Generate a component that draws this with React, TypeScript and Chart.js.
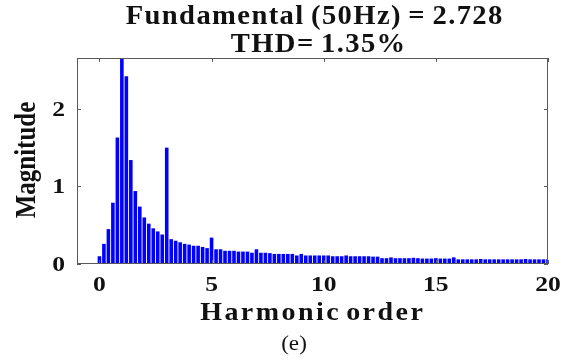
import React, { useEffect, useRef } from "react";
import { Chart, registerables } from "chart.js";

Chart.register(...registerables);

// FFT spectrum, one bar every 0.2 harmonic orders (10 Hz bins of a 50 Hz fundamental)
const ORDER_STEP = 0.2;
const magnitudes: number[] = [
  0.10, 0.26, 0.45, 0.79, 1.63, 2.728, 2.42, 1.34, 0.94, 0.74,
  0.60, 0.52, 0.46, 0.42, 0.38, 1.50, 0.32, 0.30, 0.28, 0.26,
  0.25, 0.235, 0.235, 0.22, 0.205, 0.34, 0.19, 0.19, 0.17, 0.17,
  0.17, 0.16, 0.16, 0.16, 0.145, 0.19, 0.145, 0.145, 0.14, 0.13,
  0.13, 0.13, 0.13, 0.13, 0.11, 0.13, 0.11, 0.11, 0.11, 0.11,
  0.11, 0.11, 0.10, 0.10, 0.10, 0.11, 0.10, 0.10, 0.10, 0.10,
  0.10, 0.095, 0.095, 0.075, 0.075, 0.085, 0.075, 0.075, 0.075, 0.075,
  0.08, 0.075, 0.07, 0.07, 0.07, 0.075, 0.07, 0.07, 0.07, 0.085,
  0.06, 0.06, 0.06, 0.06, 0.06, 0.065, 0.06, 0.06, 0.06, 0.06,
  0.06, 0.06, 0.06, 0.06, 0.06, 0.065, 0.06, 0.06, 0.06, 0.06,
  0.06,
];

const xTicks: number[] = [0, 5, 10, 15, 20];
const yTicks: number[] = [0, 1, 2];
const titleLines: string[] = ["Fundamental (50Hz) = 2.728", "THD= 1.35%"];
const xAxisTitle = "Harmonic order";
const yAxisTitle = "Magnitude";
const caption = "(e)";

const SERIF = '"Liberation Serif", Tinos, "Times New Roman", Times, serif';
const INK = "#111111";

// draws text widened around an anchor: a horizontal stretch plus extra tracking
function wideText(
  ctx: CanvasRenderingContext2D,
  text: string,
  x: number,
  y: number,
  font: string,
  sx: number,
  tracking: number,
  align: CanvasTextAlign,
  wordGap = 0
) {
  ctx.save();
  ctx.font = font;
  ctx.fillStyle = INK;
  ctx.textAlign = align;
  ctx.textBaseline = "alphabetic";
  (ctx as any).letterSpacing = `${tracking}px`;
  (ctx as any).wordSpacing = `${wordGap}px`;
  const shift = align === "center" ? (tracking * sx) / 2 : 0;
  ctx.translate(x + shift, y);
  ctx.scale(sx, 1);
  ctx.fillText(text, 0, 0);
  ctx.restore();
}

const framePlugin = {
  id: "frameAndLabels",
  afterDatasetsDraw(chart: any) {
    const { ctx, chartArea } = chart;
    const xs = chart.scales.x;
    const ys = chart.scales.y;
    const { left, right, top, bottom } = chartArea;
    ctx.save();
    ctx.strokeStyle = "#5a5a5a";
    ctx.lineWidth = 1;
    ctx.strokeRect(left + 0.5, top + 0.5, right - left - 1, bottom - top - 1);
    ctx.beginPath();
    const tl = 4;
    xTicks.forEach((v) => {
      const px = Math.round(xs.getPixelForValue(v)) + 0.5;
      ctx.moveTo(px, bottom);
      ctx.lineTo(px, bottom - tl);
      ctx.moveTo(px, top);
      ctx.lineTo(px, top + tl);
    });
    yTicks.forEach((v) => {
      const py = Math.round(ys.getPixelForValue(v)) + 0.5;
      ctx.moveTo(left, py);
      ctx.lineTo(left + tl, py);
      ctx.moveTo(right, py);
      ctx.lineTo(right - tl, py);
    });
    ctx.stroke();
    ctx.restore();
  },
  afterDraw(chart: any) {
    const { ctx, chartArea } = chart;
    const xs = chart.scales.x;
    const ys = chart.scales.y;
    const tickFont = `bold 21px ${SERIF}`;
    xTicks.forEach((v) => {
      wideText(ctx, String(v), xs.getPixelForValue(v), 291, tickFont, 1.22, 0, "center");
    });
    yTicks.forEach((v) => {
      wideText(ctx, String(v), 65, ys.getPixelForValue(v) + 7, tickFont, 1.22, 0, "right");
    });
    const cx = (chartArea.left + chartArea.right) / 2;
    wideText(ctx, titleLines[0], 314, 24, `bold 27px ${SERIF}`, 1.06, 1.3, "center", -2);
    wideText(ctx, titleLines[1], 318, 52, `bold 27px ${SERIF}`, 1.06, 1.3, "center", -2);
    wideText(ctx, xAxisTitle, cx - 1, 320, `bold 25px ${SERIF}`, 1.12, 2.2, "center", -4);
    wideText(ctx, caption, 294, 350, `22px ${SERIF}`, 1.05, 0, "center");

    // rotated axis title, stretched across its glyph height
    ctx.save();
    ctx.font = `bold 25px ${SERIF}`;
    ctx.fillStyle = INK;
    ctx.textAlign = "center";
    ctx.textBaseline = "middle";
    ctx.translate(27, 160);
    ctx.scale(1.2, 1);
    ctx.rotate(-Math.PI / 2);
    ctx.fillText(yAxisTitle, 0, 0);
    ctx.restore();
  },
};

export default function App() {
  const canvasRef = useRef<HTMLCanvasElement | null>(null);

  useEffect(() => {
    const canvas = canvasRef.current;
    if (!canvas) return;
    const points = magnitudes.map((m, i) => ({ x: i * ORDER_STEP, y: m }));
    const chart = new Chart(canvas, {
      type: "bar",
      data: {
        datasets: [
          {
            data: points as any,
            backgroundColor: "#0000ff",
            borderWidth: 0,
            barPercentage: 0.8,
            categoryPercentage: 1,
          },
        ],
      },
      options: {
        animation: false,
        responsive: false,
        devicePixelRatio: 1,
        layout: { padding: { left: 77, right: 26, top: 58, bottom: 97 } },
        plugins: {
          legend: { display: false },
          tooltip: { enabled: false },
          title: { display: false },
        },
        scales: {
          x: { type: "linear", display: false, offset: false, min: -1, max: 20 },
          y: { type: "linear", display: false, min: 0, max: 2.655 },
        },
      },
      plugins: [framePlugin],
    });
    return () => chart.destroy();
  }, []);

  return (
    <div style={{ position: "fixed", left: 0, top: 0, width: 574, height: 361, background: "#fff" }}>
      <canvas ref={canvasRef} width={574} height={361} style={{ display: "block" }} />
    </div>
  );
}
